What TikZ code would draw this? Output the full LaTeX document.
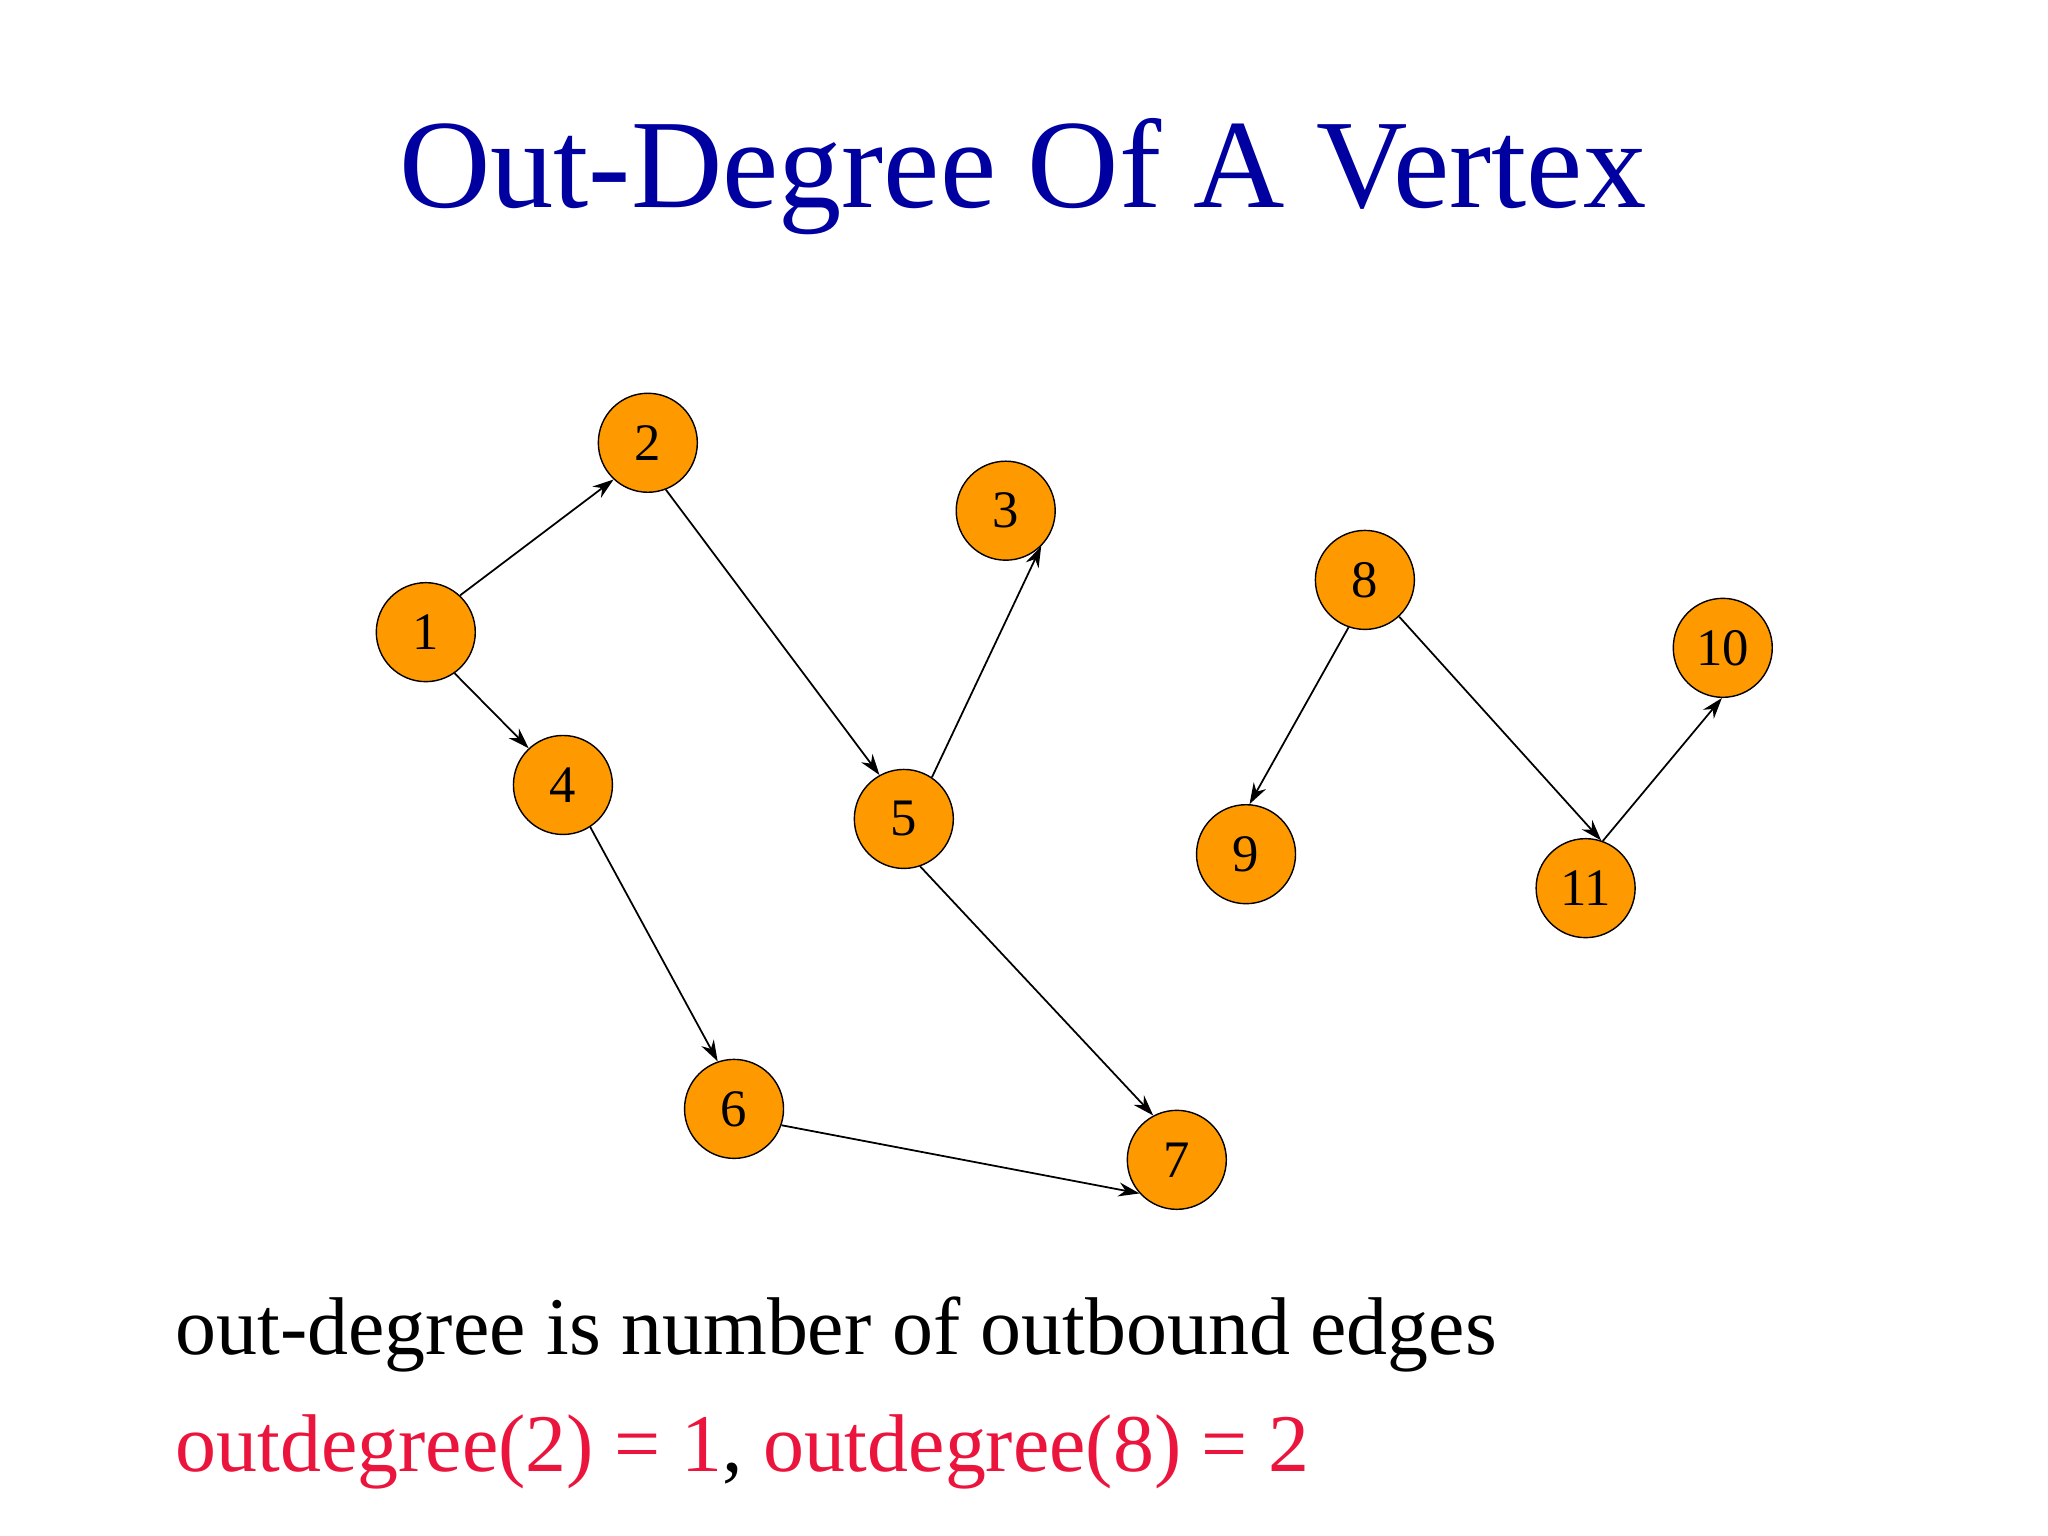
\documentclass[tikz,border=0pt]{standalone}
\usepackage{fontspec}
\setmainfont{Liberation Serif}
\usetikzlibrary{arrows.meta}
\definecolor{ttl}{RGB}{0,0,160}
\definecolor{vorange}{RGB}{255,153,0}
\definecolor{redtxt}{RGB}{235,20,60}
\newcommand{\vl}[1]{\raisebox{-3.6pt}{#1}}
\begin{document}
\begin{tikzpicture}[x=0.013061cm,y=-0.013061cm,
  vert/.style={circle,draw=black,fill=vorange,minimum size=0.99cm,inner sep=0pt,font=\fontsize{15}{15}\selectfont},
  arr/.style={-{Stealth[length=6pt,width=4pt]},line width=0.5pt}]
\useasboundingbox (0,0) rectangle (1568,1176);
\node[text=ttl,font=\fontsize{36}{40}\selectfont] (title) at (783,135) {Out-Degree Of A Vertex};
\node[vert] (n1) at (326,484) {\vl{1}};
\node[vert] (n2) at (496,339) {\vl{2}};
\node[vert] (n3) at (770,391) {\vl{3}};
\node[vert] (n4) at (431,601) {\vl{4}};
\node[vert] (n5) at (692,627) {\vl{5}};
\node[vert] (n6) at (562,849) {\vl{6}};
\node[vert] (n7) at (901,888) {\vl{7}};
\node[vert] (n8) at (1045,444) {\vl{8}};
\node[vert] (n9) at (954,654) {\vl{9}};
\node[vert] (n10) at (1319,496) {\vl{10}};
\node[vert] (n11) at (1214,680) {\vl{11}};
\draw[arr] (n1.47) -- (n2.-133);
\draw[arr] (n1.-55) -- (n4.133);
\draw[arr] (n2.-69) -- (n5.119);
\draw[arr] (n5.56) -- (n3.-45);
\draw[arr] (n4.-57) -- (n6.109);
\draw[arr] (n5.-71) -- (n7.118);
\draw[arr] (n6.-19) -- (n7.-138);
\draw[arr] (n8.-109) -- (n9.86);
\draw[arr] (n8.-47) -- (n11.72);
\draw[arr] (n11.70) -- (n10.-91);
\node[anchor=base west,font=\fontsize{23.3}{25}\selectfont,inner sep=0pt] (t1) at (134,1037) {out-degree is number of outbound edges};
\node[anchor=base west,font=\fontsize{23.3}{25}\selectfont,inner sep=0pt] (t2) at (134,1127) {\textcolor{redtxt}{outdegree(2) = 1}, \textcolor{redtxt}{outdegree(8) = 2}};
\end{tikzpicture}
\end{document}
